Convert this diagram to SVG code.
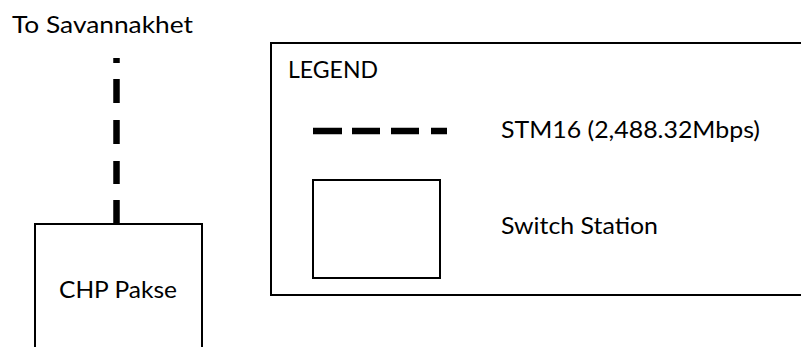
<svg xmlns="http://www.w3.org/2000/svg" width="801" height="347" viewBox="0 0 801 347">
  <style>
    .lbl { font-family: Lato, "Open Sans", "Liberation Sans", sans-serif; font-size: 23px; fill: #000; }
    .box { fill: #fff; stroke: #000; stroke-width: 2; }
    .link { stroke: #000; stroke-width: 6.5; fill: none; }
  </style>
  <rect width="801" height="347" fill="#fff"/>

  <!-- Legend panel -->
  <g id="legend">
    <rect class="box" x="271" y="43" width="540" height="252"/>
    <text class="lbl" x="288" y="78" textLength="90" lengthAdjust="spacingAndGlyphs">LEGEND</text>
    <path class="link" stroke-width="7.5" d="M313 131H342M352 131H380M391 131H419M431 131H447"/>
    <text class="lbl" x="501" y="138" textLength="259" lengthAdjust="spacingAndGlyphs">STM16 (2,488.32Mbps)</text>
    <rect class="box" x="313" y="180" width="127" height="98"/>
    <text class="lbl" x="501" y="234" textLength="157" lengthAdjust="spacingAndGlyphs">Switch Station</text>
  </g>

  <!-- Connectors -->
  <g id="connectors">
    <path class="link" d="M116.5 58V63M116.5 79V103M116.5 120V144M116.5 161V184M116.5 200V224"/>
  </g>

  <!-- Stations -->
  <g id="to-savannakhet">
    <text class="lbl" x="12" y="33" textLength="181" lengthAdjust="spacingAndGlyphs">To Savannakhet</text>
  </g>
  <g id="chp-pakse">
    <rect class="box" x="35" y="224" width="167" height="140"/>
    <text class="lbl" x="59" y="298" textLength="118" lengthAdjust="spacingAndGlyphs">CHP Pakse</text>
  </g>
</svg>
